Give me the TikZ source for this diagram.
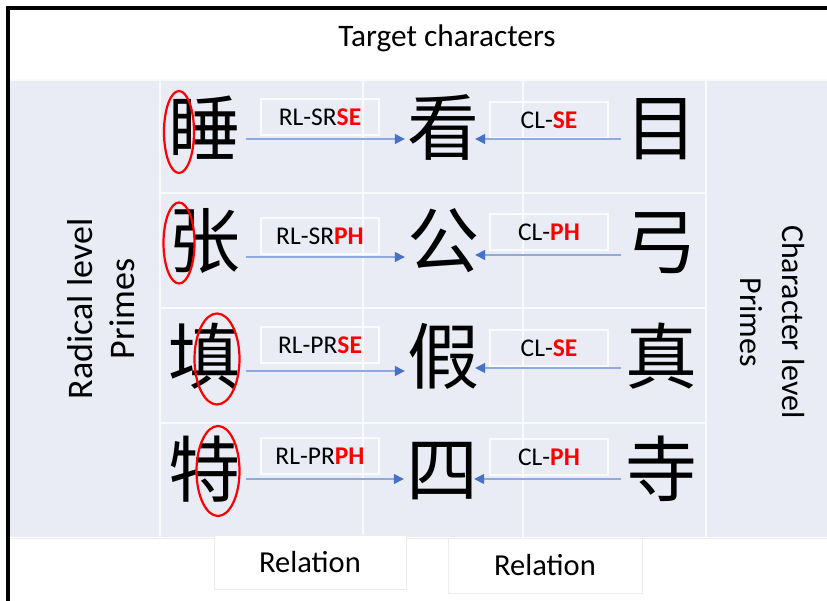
\documentclass[tikz,border=0pt]{standalone}
\usepackage{fontspec}
\setmainfont{Carlito}
\newfontfamily\hanzi{Noto Sans CJK SC}
\usetikzlibrary{arrows.meta,shapes.geometric}

\definecolor{tablebg}{RGB}{233,235,245}
\definecolor{gridline}{RGB}{250,250,253}
\definecolor{linkline}{RGB}{143,170,220}
\definecolor{linkhead}{RGB}{68,114,196}
\definecolor{keyred}{RGB}{255,0,0}
\definecolor{boxedge}{RGB}{250,251,253}
\definecolor{footedge}{RGB}{236,236,236}

\newcommand{\rel}[2]{#1\textcolor{keyred}{\textbf{#2}}}

\begin{document}
\begin{tikzpicture}[x=1pt,y=-1pt,
  glyph/.style={inner sep=0pt, font=\hanzi\fontsize{72}{72}\selectfont},
  relbox/.style={draw=boxedge, line width=1.2pt, minimum width=118pt,
    minimum height=36pt, inner sep=0pt, font=\fontsize{25.5}{30}\selectfont},
  hl/.style={ellipse, draw=keyred, line width=2.2pt, inner sep=0pt},
  link/.style={draw=linkline, line width=1.3pt,
    -{Triangle[length=10pt,width=10pt,color=linkhead]}},
  footbox/.style={fill=white, draw=footedge, line width=0.8pt, inner sep=0pt,
    font=\fontsize{30.5}{36}\selectfont},
  sidelabel/.style={align=center},
]
\useasboundingbox (0,0) rectangle (827,601);
\fill[white] (0,0) rectangle (827,601);

% shaded table body and its white grid
\fill[tablebg] (10,80) rectangle (827,537);
\draw[gridline, line width=1.5pt] (10,80) -- (827,80);
\foreach \gx in {160,363,523,706}
  \draw[gridline, line width=1.5pt] (\gx,80) -- (\gx,537);
\foreach \gy in {193,308,423}
  \draw[gridline, line width=1.5pt] (160,\gy) -- (706,\gy);
\draw[footedge, line width=0.8pt] (10,538.5) -- (827,538.5);

% outer frame (left and top edges)
\draw[black, line width=3.5pt] (8,601) -- (8,7.8) -- (827,7.8);

% headings
\node[font=\fontsize{31.3}{36}\selectfont, anchor=base] (title) at (447,47) {Target characters};
\node[sidelabel, rotate=90, font=\fontsize{36}{42}\selectfont] (radprime) at (101,309) {Radical level\\Primes};
\node[sidelabel, rotate=-90, font=\fontsize{32}{42}\selectfont] (charprime) at (772,322) {Character level\\Primes};

% character rows: radical-level prime, target, character-level prime
\node[glyph] (a1) at (204,128) {睡};
\node[glyph] (b1) at (443,128) {看};
\node[glyph] (c1) at (661,129) {目};
\node[glyph] (a2) at (204,241) {张};
\node[glyph] (b2) at (443,241) {公};
\node[glyph] (c2) at (661,243) {弓};
\node[glyph] (a3) at (204,356) {填};
\node[glyph] (b3) at (443,356) {假};
\node[glyph] (c3) at (661,356) {真};
\node[glyph] (a4) at (204,469) {特};
\node[glyph] (b4) at (442,471) {四};
\node[glyph] (c4) at (661,469) {寺};

% highlighted radicals
\node[hl, minimum width=30pt, minimum height=82pt] (h1) at (179,132) {};
\node[hl, minimum width=31pt, minimum height=81pt] (h2) at (179,243) {};
\node[hl, minimum width=45pt, minimum height=91pt] (h3) at (217,359) {};
\node[hl, minimum width=43pt, minimum height=90pt] (h4) at (218,471) {};

% relation labels
\node[relbox] (rl1) at (320,117) {\raisebox{-2pt}{\rel{RL-SR}{SE}}};
\node[relbox] (cl1) at (549,120) {\rel{CL-}{SE}};
\node[relbox] (rl2) at (320,236) {\rel{RL-SR}{PH}};
\node[relbox] (cl2) at (549,232) {\rel{CL-}{PH}};
\node[relbox] (rl3) at (320,345) {\rel{RL-PR}{SE}};
\node[relbox] (cl3) at (549,348) {\rel{CL-}{SE}};
\node[relbox] (rl4) at (320,456) {\rel{RL-PR}{PH}};
\node[relbox] (cl4) at (549,457) {\rel{CL-}{PH}};

% arrows into the target characters
\draw[link] ([xshift=6pt,yshift=-11pt]a1.east) -- ([xshift=-2pt,yshift=-11pt]b1.west);
\draw[link] ([xshift=-4pt,yshift=-10pt]c1.west) -- ([xshift=-4pt,yshift=-11pt]b1.east);
\draw[link] ([xshift=6pt,yshift=-16pt]a2.east) -- ([xshift=-2pt,yshift=-16pt]b2.west);
\draw[link] ([xshift=-4pt,yshift=-12pt]c2.west) -- ([xshift=-4pt,yshift=-14pt]b2.east);
\draw[link] ([xshift=6pt,yshift=-15pt]a3.east) -- ([xshift=-2pt,yshift=-15pt]b3.west);
\draw[link] ([xshift=-4pt,yshift=-12pt]c3.west) -- ([xshift=-4pt,yshift=-12pt]b3.east);
\draw[link] ([xshift=6pt,yshift=-10pt]a4.east) -- ([xshift=-2pt,yshift=-8pt]b4.west);
\draw[link] ([xshift=-4pt,yshift=-10pt]c4.west) -- ([xshift=-4pt,yshift=-8pt]b4.east);

% column captions below the table
\node[footbox, minimum width=192pt, minimum height=54pt] (relA) at (310,562) {\raisebox{-2pt}{Relation}};
\node[footbox, minimum width=194pt, minimum height=55pt] (relB) at (545,565.5) {\raisebox{-2pt}{Relation}};
\end{tikzpicture}
\end{document}
